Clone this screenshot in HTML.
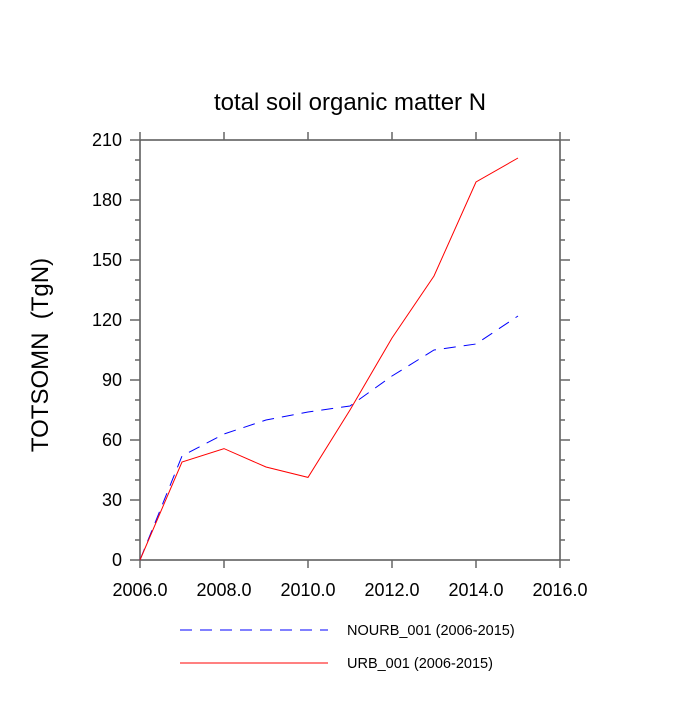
<!DOCTYPE html>
<html><head><meta charset="utf-8"><style>
body{margin:0;background:#fff}
text{font-family:"Liberation Sans",sans-serif}
</style></head><body>
<svg id="chart" width="700" height="700" xmlns="http://www.w3.org/2000/svg">
<rect width="700" height="700" fill="#fff"/>
<text x="350" y="110" font-size="24" text-anchor="middle">total soil organic matter N</text>
<text transform="translate(48,355) rotate(-90)" font-size="24" text-anchor="middle" style="white-space:pre" xml:space="preserve">TOTSOMN  (TgN)</text>
<g id="axes"></g>
<g id="series"></g>
<g>
<line x1="180" y1="630" x2="328" y2="630" stroke="#00f" stroke-width="1" stroke-dasharray="12,8"/>
<text x="347" y="635" font-size="14.5">NOURB_001 (2006-2015)</text>
<line x1="180" y1="663" x2="328" y2="663" stroke="#f00" stroke-width="1"/>
<text x="347" y="668" font-size="14.5">URB_001 (2006-2015)</text>
</g>
</svg>
<script>
const years=[2006,2007,2008,2009,2010,2011,2012,2013,2014,2015];
const urb=[0,49,55.7,46.5,41.3,75,111,142,189,201];
const nourb=[0,52,63,70,74,77,92,105,108,122];
const xTicks=[2006,2008,2010,2012,2014,2016];
const xTickLabels=["2006.0","2008.0","2010.0","2012.0","2014.0","2016.0"];
const yTicks=[0,30,60,90,120,150,180,210];
const NS="http://www.w3.org/2000/svg";
const L=140,R=560,T=140,B=560;
const xs=v=>L+(v-2006)/10*(R-L);
const ys=v=>B-v/210*(B-T);
function mk(tag,attrs,parent){const e=document.createElementNS(NS,tag);for(const k in attrs)e.setAttribute(k,attrs[k]);parent.appendChild(e);return e;}
const ax=document.getElementById('axes');
const frame=mk('rect',{x:L,y:T,width:R-L,height:B-T,fill:'none',stroke:'#555','stroke-width':1.5},ax);


const tc='#666';
xTicks.forEach((t,i)=>{
  const x=xs(t);
  mk('line',{x1:x,y1:B,x2:x,y2:B+8,stroke:tc,'stroke-width':1.5},ax);
  mk('line',{x1:x,y1:T,x2:x,y2:T-8,stroke:tc,'stroke-width':1.5},ax);
  const tx=mk('text',{x:x,y:B+36,'font-size':18,'text-anchor':'middle'},ax);
  tx.textContent=xTickLabels[i];
  
  
});
for(let v=0;v<=210;v+=10){
  const y=ys(v);const major=v%30===0;const len=major?10:5;
  mk('line',{x1:L,y1:y,x2:L-len,y2:y,stroke:tc,'stroke-width':1.5},ax);
  mk('line',{x1:R,y1:y,x2:R+len,y2:y,stroke:tc,'stroke-width':1.5},ax);
}
yTicks.forEach(v=>{
  const tx=mk('text',{x:L-18,y:ys(v)+6,'font-size':18,'text-anchor':'end'},ax);
  tx.textContent=v;
  
  
});
const sg=document.getElementById('series');
const p1=mk('polyline',{points:years.map((y,i)=>xs(y)+','+ys(nourb[i])).join(' '),fill:'none',stroke:'#00f','stroke-width':1,'stroke-dasharray':'12,8'},sg);


const p2=mk('polyline',{points:years.map((y,i)=>xs(y)+','+ys(urb[i])).join(' '),fill:'none',stroke:'#f00','stroke-width':1},sg);


</script>
</body></html>
